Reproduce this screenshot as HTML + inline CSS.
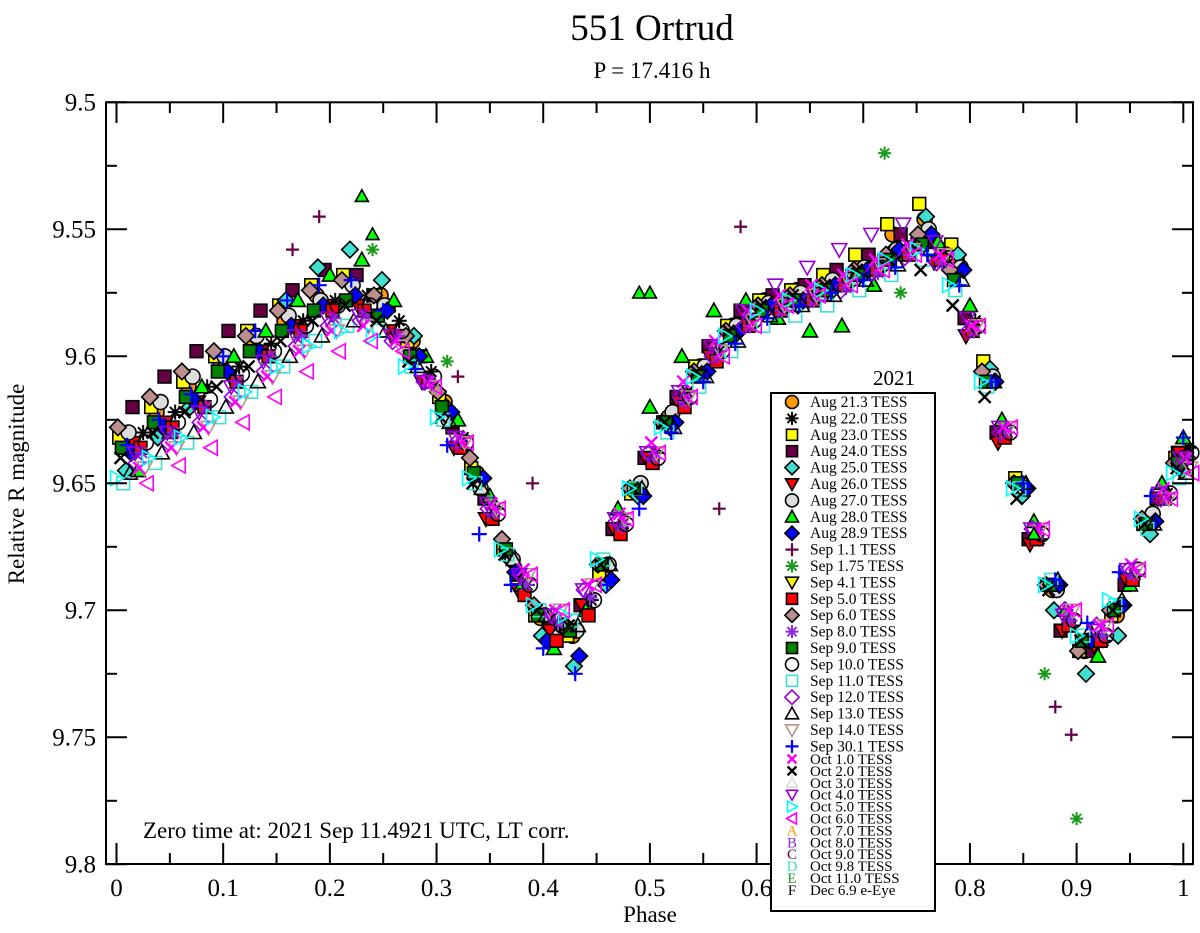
<!DOCTYPE html>
<html><head><meta charset="utf-8"><style>
body{margin:0;background:#fff}
svg{display:block;font-family:"Liberation Serif",serif}
</style></head><body>
<svg id="chart" width="1200" height="933" xmlns="http://www.w3.org/2000/svg">
<text x="652" y="40" font-size="37" text-anchor="middle">551 Ortrud</text>
<text x="652" y="78" font-size="23" text-anchor="middle">P = 17.416 h</text>
<text transform="translate(24,484) rotate(-90)" font-size="23" text-anchor="middle">Relative R magnitude</text>
<text x="650" y="922" font-size="23" text-anchor="middle">Phase</text>
<g id="marks"></g>
<g id="axes"></g>
<text x="143" y="838" font-size="23">Zero time at: 2021 Sep 11.4921 UTC, LT corr.</text>
<g id="legend"></g>
</svg>
<script>
const xTicks=[0,0.1,0.2,0.3,0.4,0.5,0.6,0.7,0.8,0.9,1];
const xTickLabels=["0","0.1","0.2","0.3","0.4","0.5","0.6","0.7","0.8","0.9","1"];
const yTicks=[9.5,9.55,9.6,9.65,9.7,9.75,9.8];
const yTickLabels=["9.5","9.55","9.6","9.65","9.7","9.75","9.8"];
const phaseGridA=[0,0.03,0.06,0.09,0.12,0.15,0.18,0.21,0.24,0.27,0.30,0.33,0.36,0.39,0.42,0.45,0.48,0.51,0.54,0.57,0.60,0.63,0.66,0.69,0.72,0.75,0.78,0.81,0.84,0.87,0.90,0.93,0.96,0.99];
const phaseGridB=[0.015,0.045,0.075,0.105,0.135,0.165,0.195,0.225,0.255,0.285,0.315,0.345,0.375,0.405,0.435,0.465,0.495,0.525,0.555,0.585,0.615,0.645,0.675,0.705,0.735,0.765,0.795,0.825,0.855,0.885,0.915,0.945,0.975,0.995];
const seriesNames=["Aug 21.3 TESS","Aug 22.0 TESS","Aug 23.0 TESS","Aug 24.0 TESS","Aug 25.0 TESS","Aug 26.0 TESS","Aug 27.0 TESS","Aug 28.0 TESS","Aug 28.9 TESS","Sep 5.0 TESS","Sep 6.0 TESS","Sep 8.0 TESS","Sep 9.0 TESS","Sep 10.0 TESS","Sep 11.0 TESS","Sep 12.0 TESS","Sep 13.0 TESS","Sep 14.0 TESS","Sep 30.1 TESS","Oct 1.0 TESS","Oct 2.0 TESS","Oct 4.0 TESS","Oct 5.0 TESS","Oct 6.0 TESS"];
const seriesGrid=["A","B","A","B","A","B","A","B","A","B","A","B","A","B","A","B","A","B","A","B","A","B","A","B"];
const seriesShift=[0.0075,0.01,0.0025,0,0.0088,0.0013,0.0113,0.005,0.0138,0.0075,0.0013,0.0088,0.005,0.0125,0.0063,0.0038,0.0125,0.0113,0.01,0.0063,0.0038,0.0025,0.0,0.0138];
const magAug21=[9.634,9.622,9.612,9.602,9.594,9.586,9.576,9.57,9.576,9.594,9.618,9.646,9.678,9.703,9.71,9.684,9.652,9.624,9.604,9.588,9.578,9.574,9.57,9.562,9.552,9.546,9.562,9.606,9.65,9.692,9.716,9.702,9.664,9.64];
const magAug22=[9.63,9.622,9.612,9.604,9.595,9.586,9.578,9.576,9.586,9.606,9.632,9.66,9.69,9.706,9.696,9.666,9.638,9.614,9.598,9.586,9.58,9.576,9.57,9.563,9.556,9.558,9.586,9.63,9.672,9.706,9.712,9.686,9.654,9.636];
const magAug23=[9.632,9.62,9.61,9.6,9.59,9.58,9.572,9.568,9.576,9.594,9.616,9.644,9.676,9.702,9.71,9.686,9.654,9.626,9.604,9.588,9.578,9.574,9.568,9.56,9.548,9.54,9.556,9.602,9.648,9.69,9.716,9.702,9.666,9.64];
const magAug24=[9.62,9.608,9.598,9.59,9.582,9.574,9.566,9.568,9.58,9.6,9.628,9.656,9.686,9.704,9.698,9.668,9.64,9.616,9.596,9.582,9.576,9.572,9.566,9.56,9.552,9.555,9.585,9.63,9.672,9.708,9.716,9.69,9.656,9.638];
const magAug25=[9.645,9.632,9.62,9.605,9.592,9.578,9.565,9.558,9.57,9.592,9.62,9.65,9.68,9.71,9.722,9.69,9.655,9.628,9.605,9.592,9.582,9.58,9.575,9.568,9.558,9.545,9.56,9.605,9.655,9.70,9.725,9.71,9.67,9.645];
const magAug26=[9.634,9.626,9.618,9.608,9.598,9.588,9.58,9.58,9.59,9.61,9.636,9.664,9.692,9.708,9.698,9.668,9.64,9.618,9.6,9.587,9.58,9.576,9.572,9.566,9.56,9.563,9.592,9.634,9.674,9.708,9.714,9.688,9.656,9.638];
const magAug27=[9.63,9.618,9.608,9.6,9.592,9.584,9.578,9.572,9.58,9.6,9.625,9.652,9.68,9.702,9.708,9.682,9.65,9.622,9.604,9.588,9.579,9.575,9.57,9.565,9.558,9.55,9.565,9.608,9.652,9.692,9.712,9.698,9.662,9.64];
const magAug28=[9.645,9.63,9.612,9.6,9.59,9.578,9.568,9.562,9.578,9.6,9.625,9.655,9.69,9.715,9.70,9.66,9.62,9.60,9.582,9.578,9.585,9.59,9.588,9.572,9.56,9.555,9.58,9.625,9.665,9.70,9.718,9.69,9.65,9.632];
const magAug289=[9.638,9.628,9.618,9.606,9.598,9.588,9.58,9.576,9.582,9.6,9.622,9.648,9.685,9.712,9.718,9.688,9.655,9.626,9.606,9.59,9.58,9.578,9.572,9.566,9.558,9.552,9.566,9.61,9.652,9.69,9.712,9.698,9.665,9.64];
const magSep5=[9.636,9.628,9.62,9.61,9.6,9.59,9.582,9.582,9.592,9.61,9.636,9.664,9.694,9.712,9.702,9.67,9.642,9.62,9.602,9.588,9.582,9.578,9.572,9.566,9.56,9.562,9.59,9.632,9.672,9.706,9.712,9.688,9.656,9.64];
const magSep6=[9.628,9.616,9.606,9.598,9.592,9.582,9.574,9.57,9.576,9.592,9.614,9.64,9.672,9.698,9.706,9.682,9.652,9.626,9.606,9.59,9.58,9.576,9.572,9.566,9.56,9.552,9.566,9.606,9.65,9.69,9.716,9.7,9.664,9.642];
const magSep8=[9.638,9.63,9.62,9.61,9.6,9.592,9.585,9.584,9.592,9.61,9.634,9.662,9.69,9.705,9.695,9.667,9.64,9.618,9.6,9.588,9.582,9.578,9.573,9.567,9.56,9.563,9.59,9.63,9.67,9.704,9.71,9.686,9.656,9.64];
const magSep9=[9.636,9.626,9.616,9.606,9.598,9.59,9.582,9.578,9.584,9.6,9.62,9.646,9.676,9.702,9.708,9.682,9.652,9.626,9.608,9.592,9.582,9.578,9.574,9.568,9.562,9.556,9.57,9.61,9.65,9.69,9.712,9.7,9.666,9.642];
const magSep10=[9.634,9.626,9.617,9.607,9.598,9.588,9.58,9.58,9.59,9.608,9.634,9.662,9.69,9.706,9.696,9.666,9.64,9.616,9.598,9.586,9.58,9.576,9.57,9.564,9.557,9.56,9.588,9.63,9.67,9.704,9.71,9.684,9.654,9.638];
const magSep11=[9.65,9.642,9.634,9.624,9.614,9.604,9.594,9.588,9.59,9.604,9.625,9.65,9.678,9.7,9.704,9.68,9.652,9.63,9.612,9.598,9.588,9.584,9.58,9.574,9.568,9.562,9.574,9.612,9.652,9.688,9.71,9.698,9.668,9.648];
const magSep12=[9.642,9.634,9.626,9.616,9.606,9.596,9.588,9.586,9.594,9.61,9.634,9.66,9.686,9.702,9.692,9.665,9.638,9.616,9.6,9.588,9.582,9.578,9.574,9.567,9.561,9.563,9.59,9.63,9.668,9.7,9.706,9.684,9.656,9.642];
const magSep13=[9.646,9.638,9.63,9.62,9.61,9.6,9.592,9.586,9.59,9.604,9.626,9.652,9.68,9.702,9.706,9.682,9.652,9.628,9.608,9.594,9.584,9.58,9.576,9.57,9.564,9.558,9.57,9.61,9.65,9.688,9.708,9.696,9.666,9.646];
const magSep14=[9.644,9.636,9.628,9.618,9.608,9.598,9.59,9.588,9.596,9.612,9.634,9.66,9.686,9.7,9.69,9.664,9.638,9.616,9.598,9.586,9.58,9.576,9.57,9.564,9.558,9.56,9.588,9.628,9.668,9.7,9.706,9.684,9.656,9.644];
const magSep30=[9.635,9.625,9.615,9.6,9.59,9.578,9.572,9.57,9.582,9.605,9.635,9.67,9.69,9.715,9.725,9.69,9.66,9.63,9.61,9.595,9.585,9.58,9.575,9.57,9.565,9.56,9.572,9.61,9.65,9.688,9.705,9.685,9.655,9.632];
const magOct1=[9.644,9.636,9.628,9.618,9.608,9.598,9.59,9.588,9.594,9.61,9.632,9.658,9.684,9.7,9.69,9.662,9.634,9.61,9.594,9.582,9.576,9.572,9.568,9.562,9.556,9.56,9.588,9.628,9.668,9.7,9.706,9.682,9.652,9.64];
const magOct2=[9.64,9.63,9.622,9.612,9.604,9.594,9.586,9.58,9.586,9.602,9.624,9.65,9.678,9.7,9.706,9.682,9.652,9.626,9.606,9.59,9.58,9.576,9.572,9.566,9.562,9.566,9.58,9.616,9.656,9.692,9.712,9.7,9.666,9.644];
const magOct4=[9.638,9.63,9.622,9.612,9.602,9.592,9.585,9.584,9.592,9.61,9.632,9.658,9.686,9.702,9.692,9.664,9.638,9.614,9.596,9.582,9.572,9.565,9.558,9.552,9.548,9.555,9.585,9.628,9.668,9.702,9.708,9.684,9.654,9.64];
const magOct5=[9.648,9.64,9.632,9.624,9.614,9.604,9.596,9.59,9.592,9.604,9.624,9.648,9.676,9.698,9.702,9.68,9.652,9.628,9.608,9.592,9.582,9.578,9.574,9.568,9.562,9.558,9.572,9.61,9.652,9.69,9.71,9.696,9.664,9.646];
const magOct6=[9.65,9.643,9.636,9.626,9.616,9.606,9.598,9.594,9.598,9.612,9.634,9.66,9.686,9.7,9.69,9.664,9.638,9.616,9.6,9.588,9.58,9.576,9.572,9.566,9.56,9.562,9.588,9.628,9.668,9.7,9.706,9.684,9.656,9.646];
const extraPhasesSep1=[0.165,0.19,0.39,0.565,0.585,0.88,0.895,0.32];
const extraMagsSep1=[9.558,9.545,9.65,9.66,9.549,9.738,9.749,9.608];
const extraPhasesSep175=[0.24,0.9,0.72,0.735,0.87,0.31];
const extraMagsSep175=[9.558,9.782,9.52,9.575,9.725,9.602];
const extraPhasesAug28=[0.23,0.24,0.49,0.86,0.5];
const extraMagsAug28=[9.537,9.552,9.575,9.67,9.575];

const X=p=>116.5+p*1066.8;
const Y=m=>102.3+(m-9.5)/0.05*127;
const NS="http://www.w3.org/2000/svg";
function mk(tag,attrs,parent){const e=document.createElementNS(NS,tag);for(const k in attrs)e.setAttribute(k,attrs[k]);parent.appendChild(e);return e;}

const styles={
"Aug 21.3 TESS":["circle","#ff9900","#000"],
"Aug 22.0 TESS":["star","none","#000"],
"Aug 23.0 TESS":["square","#ffff00","#000"],
"Aug 24.0 TESS":["square","#660044","#000"],
"Aug 25.0 TESS":["diamond","#40e0d0","#000"],
"Aug 26.0 TESS":["tdown","#ff0000","#000"],
"Aug 27.0 TESS":["circle","#dcdcdc","#000"],
"Aug 28.0 TESS":["tup","#00ff00","#000"],
"Aug 28.9 TESS":["diamond","#0000ff","#000"],
"Sep 1.1 TESS":["plus","none","#660044"],
"Sep 1.75 TESS":["star","none","#1a9a1a"],
"Sep 4.1 TESS":["tdown","#ffff00","#000"],
"Sep 5.0 TESS":["square","#ff0000","#000"],
"Sep 6.0 TESS":["diamond","#bc8f8f","#000"],
"Sep 8.0 TESS":["star","none","#8a2be2"],
"Sep 9.0 TESS":["square","#008000","#000"],
"Sep 10.0 TESS":["circle","none","#000"],
"Sep 11.0 TESS":["square","none","#40e0d0"],
"Sep 12.0 TESS":["diamond","none","#9400d3"],
"Sep 13.0 TESS":["tup","none","#000"],
"Sep 14.0 TESS":["tdown","none","#bc8f8f"],
"Sep 30.1 TESS":["plus","none","#0000ff"],
"Oct 1.0 TESS":["x","none","#ff00ff"],
"Oct 2.0 TESS":["x","none","#000"],
"Oct 3.0 TESS":["tup","none","#dcdcdc"],
"Oct 4.0 TESS":["tdown","none","#9400d3"],
"Oct 5.0 TESS":["tright","none","#00ffff"],
"Oct 6.0 TESS":["tleft","none","#ff00ff"],
"Oct 7.0 TESS":["A","none","#ff9900"],
"Oct 8.0 TESS":["B","none","#8a2be2"],
"Oct 9.0 TESS":["C","none","#660044"],
"Oct 9.8 TESS":["D","none","#40e0d0"],
"Oct 11.0 TESS":["E","none","#1a9a1a"],
"Dec 6.9 e-Eye":["F","none","#000"]};

function marker(g,name,x,y,r){
  const [t,f,s]=styles[name];const sw=1.6;let e;
  if(t==="circle")e=mk("circle",{cx:x,cy:y,r:r,fill:f,stroke:s,"stroke-width":sw},g);
  else if(t==="square")e=mk("rect",{x:x-r*0.85,y:y-r*0.85,width:r*1.7,height:r*1.7,fill:f,stroke:s,"stroke-width":sw},g);
  else if(t==="diamond")e=mk("polygon",{points:`${x},${y-r*1.1} ${x+r*1.1},${y} ${x},${y+r*1.1} ${x-r*1.1},${y}`,fill:f,stroke:s,"stroke-width":sw},g);
  else if(t==="tup")e=mk("polygon",{points:`${x},${y-r} ${x+r},${y+r*0.8} ${x-r},${y+r*0.8}`,fill:f,stroke:s,"stroke-width":sw},g);
  else if(t==="tdown")e=mk("polygon",{points:`${x},${y+r} ${x+r},${y-r*0.8} ${x-r},${y-r*0.8}`,fill:f,stroke:s,"stroke-width":sw},g);
  else if(t==="tright")e=mk("polygon",{points:`${x+r},${y} ${x-r*0.8},${y-r} ${x-r*0.8},${y+r}`,fill:f,stroke:s,"stroke-width":sw},g);
  else if(t==="tleft")e=mk("polygon",{points:`${x-r},${y} ${x+r*0.8},${y-r} ${x+r*0.8},${y+r}`,fill:f,stroke:s,"stroke-width":sw},g);
  else if(t==="plus")e=mk("path",{d:`M${x-r} ${y}H${x+r}M${x} ${y-r}V${y+r}`,stroke:s,"stroke-width":2.2,fill:"none"},g);
  else if(t==="x")e=mk("path",{d:`M${x-r*0.8} ${y-r*0.8}L${x+r*0.8} ${y+r*0.8}M${x-r*0.8} ${y+r*0.8}L${x+r*0.8} ${y-r*0.8}`,stroke:s,"stroke-width":2.4,fill:"none"},g);
  else if(t==="star")e=mk("path",{d:`M${x-r} ${y}H${x+r}M${x} ${y-r}V${y+r}M${x-r*0.7} ${y-r*0.7}L${x+r*0.7} ${y+r*0.7}M${x-r*0.7} ${y+r*0.7}L${x+r*0.7} ${y-r*0.7}`,stroke:s,"stroke-width":2,fill:"none"},g);
  else {e=mk("text",{x:x,y:y+5,"font-size":15,"text-anchor":"middle",fill:s},g);e.textContent=t;}
  return e;
}

const marks=document.getElementById("marks");
const seriesMags=[magAug21,magAug22,magAug23,magAug24,magAug25,magAug26,magAug27,magAug28,magAug289,magSep5,magSep6,magSep8,magSep9,magSep10,magSep11,magSep12,magSep13,magSep14,magSep30,magOct1,magOct2,magOct4,magOct5,magOct6];
seriesNames.forEach((n,i)=>{
  const g=mk("g",{},marks);
  
  
  const grid=seriesGrid[i]==="A"?phaseGridA:phaseGridB;
  seriesMags[i].forEach((m,j)=>{
    const e=marker(g,n,X(grid[j]+seriesShift[i]),Y(m),7.5);
    
    
  });
});
[["Sep 1.1 TESS",extraPhasesSep1,extraMagsSep1],["Sep 1.75 TESS",extraPhasesSep175,extraMagsSep175],["Aug 28.0 TESS",extraPhasesAug28,extraMagsAug28]].forEach(([n,ps,ms])=>{
  const g=mk("g",{},marks);
  
  
  ps.forEach((p,j)=>{
    const e=marker(g,n,X(p),Y(ms[j]),6.5);
    
    
  });
});

const ax=document.getElementById("axes");
mk("rect",{x:106,y:102.3,width:1087,height:761.7,fill:"none",stroke:"#000","stroke-width":2},ax);
xTicks.forEach((p,i)=>{
  mk("line",{x1:X(p),x2:X(p),y1:864,y2:843,stroke:"#000","stroke-width":2},ax);
  mk("line",{x1:X(p),x2:X(p),y1:102.3,y2:123,stroke:"#000","stroke-width":2},ax);
  if(i<xTicks.length-1){const h=X(p+0.05);
    mk("line",{x1:h,x2:h,y1:864,y2:853,stroke:"#000","stroke-width":2},ax);
    mk("line",{x1:h,x2:h,y1:102.3,y2:113,stroke:"#000","stroke-width":2},ax);}
  const t=mk("text",{x:X(p),y:896,"font-size":25,"text-anchor":"middle"},ax);
  
  
  t.textContent=xTickLabels[i];
});
yTicks.forEach((m,i)=>{
  mk("line",{x1:106,x2:127,y1:Y(m),y2:Y(m),stroke:"#000","stroke-width":2},ax);
  mk("line",{x1:1193,x2:1172,y1:Y(m),y2:Y(m),stroke:"#000","stroke-width":2},ax);
  if(i<yTicks.length-1){const h=Y(m+0.025);
    mk("line",{x1:106,x2:117,y1:h,y2:h,stroke:"#000","stroke-width":2},ax);
    mk("line",{x1:1193,x2:1182,y1:h,y2:h,stroke:"#000","stroke-width":2},ax);}
  const t=mk("text",{x:96,y:Y(m)+8,"font-size":25,"text-anchor":"end"},ax);
  
  
  t.textContent=yTickLabels[i];
});

const lg=document.getElementById("legend");
const lt=mk("text",{x:894,y:385,"font-size":21,"text-anchor":"middle"},lg);


lt.textContent="2021";
mk("rect",{x:771,y:393,width:164,height:518,fill:"#fff",stroke:"#000","stroke-width":2},lg);
const legendNames=Object.keys(styles);
legendNames.forEach((n,i)=>{
  const y=i<22?402+i*16.4:759+(i-22)*11.9;
  const g=mk("g",{},lg);
  
  
  marker(g,n,792,y,i<22?6.5:5.5);
  const t=mk("text",{x:810,y:y+5,"font-size":i<22?15.5:15},g);
  t.textContent=n;
});
</script>
</body></html>
